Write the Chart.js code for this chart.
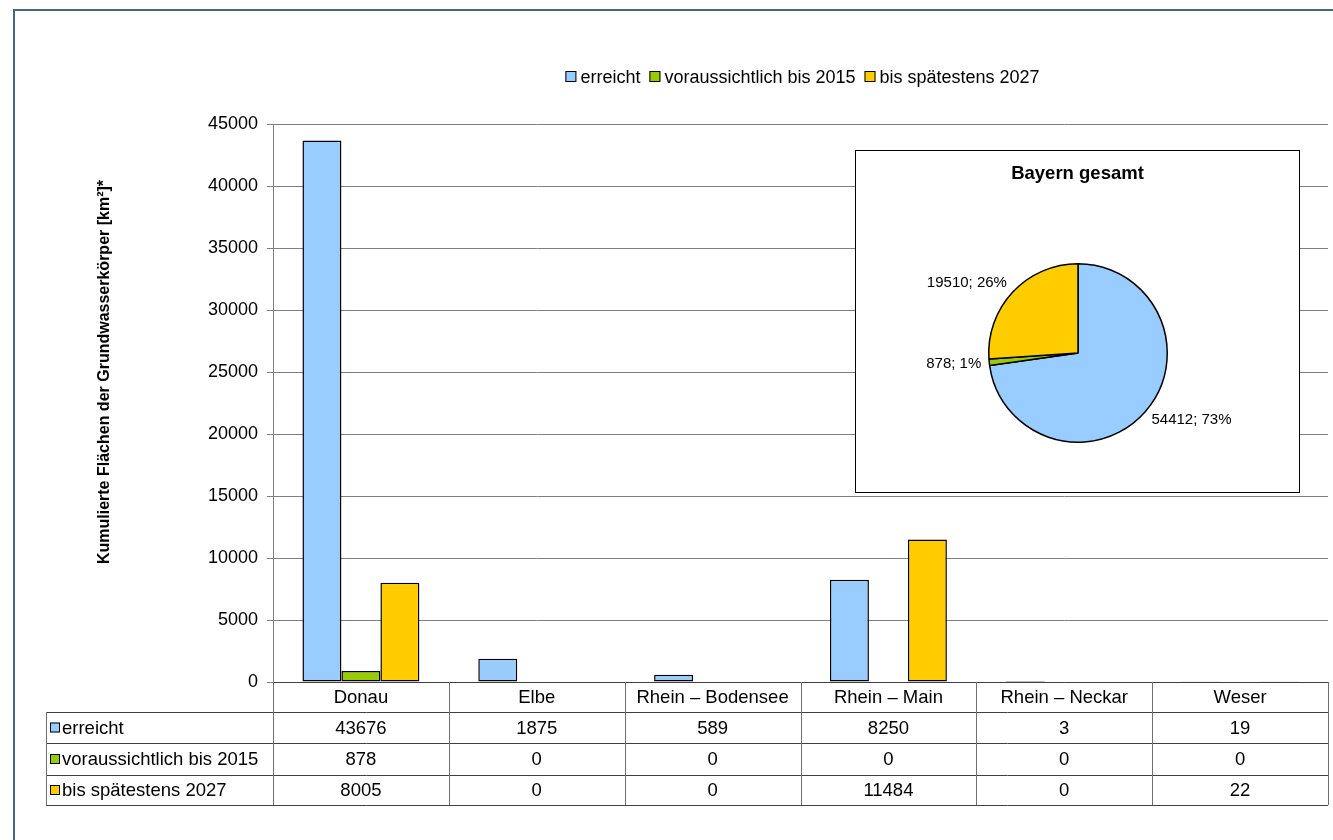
<!DOCTYPE html>
<html>
<head>
<meta charset="utf-8">
<script src="https://cdn.jsdelivr.net/npm/chart.js@4.4.1/dist/chart.umd.min.js"></script>
<style>
  html, body { margin: 0; padding: 0; background: #fff; }
  #wrap { position: relative; width: 1333px; height: 840px; overflow: hidden; }
  #frame { position: absolute; left: 13px; top: 9px; width: 1400px; height: 900px; border: 2px solid #3f6b80; }
  #main { position: absolute; left: 0; top: 0; }
  #pieBox { position: absolute; left: 855px; top: 150px; width: 445px; height: 343px;
            border: 1px solid #000; background: #fff; box-sizing: border-box; }
  #pie { position: absolute; left: 0; top: 0; }
</style>
</head>
<body>
<div id="wrap">
  <div id="frame"></div>
  <canvas id="main" width="1333" height="840"></canvas>
  <div id="pieBox"><canvas id="pie" width="443" height="341"></canvas></div>
</div>
<script>
// categories and series
var categories = ['Donau', 'Elbe', 'Rhein \u2013 Bodensee', 'Rhein \u2013 Main', 'Rhein \u2013 Neckar', 'Weser'];
var seriesNames = ['erreicht', 'voraussichtlich bis 2015', 'bis sp\u00e4testens 2027'];
var erreicht = [43676, 1875, 589, 8250, 3, 19];
var bis2015 = [878, 0, 0, 0, 0, 0];
var bis2027 = [8005, 0, 0, 11484, 0, 22];
var colors = ['#99ccff', '#99cc00', '#ffcc00'];
var yTitle = 'Kumulierte Fl\u00e4chen der Grundwasserk\u00f6rper [km\u00b2]*';

// pie "Bayern gesamt"
var pieValues = [54412, 878, 19510];
var piePercent = [73, 1, 26];

var FONT = "'Liberation Sans', Arial, sans-serif";

// legend on top, axis title, data table below the plot
var legendTablePlugin = {
  id: 'legendTable',
  afterDraw: function(chart) {
    var ctx = chart.ctx;
    var area = chart.chartArea;
    ctx.save();

    // y axis title
    ctx.save();
    ctx.translate(105, 372);
    ctx.rotate(-Math.PI / 2);
    ctx.font = 'bold 16px ' + FONT;
    ctx.fillStyle = '#000';
    ctx.textAlign = 'center';
    ctx.textBaseline = 'middle';
    ctx.fillText(yTitle, 0, 0);
    ctx.restore();

    // legend
    ctx.font = '18px ' + FONT;
    ctx.textBaseline = 'middle';
    var total = 0;
    var widths = seriesNames.map(function(n) { return ctx.measureText(n).width; });
    widths.forEach(function(w) { total += 11 + 4 + w; });
    total += 9 * (seriesNames.length - 1);
    var lx = (area.left + area.right) / 2 - total / 2 + 2;
    var ly = 77;
    seriesNames.forEach(function(n, i) {
      ctx.fillStyle = colors[i];
      ctx.fillRect(lx, ly - 6, 11, 11);
      ctx.strokeStyle = '#000';
      ctx.lineWidth = 1;
      ctx.strokeRect(lx + 0.5, ly - 5.5, 10, 10);
      ctx.fillStyle = '#000';
      ctx.textAlign = 'left';
      ctx.fillText(n, lx + 15, ly + 1);
      lx += 15 + widths[i] + 9;
    });

    // table
    var rows = [erreicht, bis2015, bis2027];
    var colW = (area.right - area.left) / categories.length;
    var top = area.bottom;
    var lines = [top, top + 30, top + 61, top + 93, top + 123];
    var tableLeft = 46;

    ctx.lineWidth = 1;
    ctx.strokeStyle = '#404040';
    ctx.beginPath();
    ctx.moveTo(area.left, lines[0] + 0.5); ctx.lineTo(area.right, lines[0] + 0.5);
    for (var r = 1; r < lines.length; r++) {
      ctx.moveTo(tableLeft, lines[r] + 0.5); ctx.lineTo(area.right, lines[r] + 0.5);
    }
    ctx.stroke();
    ctx.strokeStyle = '#707070';
    ctx.beginPath();
    ctx.moveTo(tableLeft + 0.5, lines[1]); ctx.lineTo(tableLeft + 0.5, lines[4]);
    for (var c = 0; c <= categories.length; c++) {
      var x = Math.round(area.left + c * colW) + 0.5;
      ctx.moveTo(x, lines[0]); ctx.lineTo(x, lines[4]);
    }
    ctx.stroke();

    ctx.fillStyle = '#000';
    ctx.font = '18.5px ' + FONT;
    ctx.textAlign = 'center';
    categories.forEach(function(cat, i) {
      var cx = chart.scales.x.getPixelForValue(i);
      ctx.fillText(cat, cx, (lines[0] + lines[1]) / 2 + 1);
      rows.forEach(function(vals, r) {
        ctx.fillText(String(vals[i]), cx, (lines[r + 1] + lines[r + 2]) / 2 + 1);
      });
    });
    ctx.textAlign = 'left';
    seriesNames.forEach(function(n, r) {
      var cy = (lines[r + 1] + lines[r + 2]) / 2;
      ctx.fillStyle = colors[r];
      ctx.fillRect(50, cy - 5, 10, 10);
      ctx.strokeStyle = '#000';
      ctx.strokeRect(50.5, cy - 4.5, 9, 9);
      ctx.fillStyle = '#000';
      ctx.fillText(n, 62, cy + 1);
    });
    ctx.restore();
  }
};

new Chart(document.getElementById('main'), {
  type: 'bar',
  data: {
    labels: categories,
    datasets: [erreicht, bis2015, bis2027].map(function(d, i) {
      return {
        label: seriesNames[i],
        data: d,
        backgroundColor: colors[i],
        borderColor: '#000',
        borderWidth: 1.5,
        borderSkipped: false,
        categoryPercentage: 0.665,
        barPercentage: 1
      };
    })
  },
  options: {
    responsive: false,
    animation: false,
    layout: { padding: { left: 90, right: 5, top: 124, bottom: 158 } },
    plugins: { legend: { display: false }, tooltip: { enabled: false } },
    scales: {
      x: { display: false },
      y: {
        min: 0, max: 45000,
        afterFit: function(s) { s.width = 183; },
        ticks: {
          stepSize: 5000, color: '#000', padding: 9,
          font: { family: FONT, size: 18 },
          callback: function(v) { return String(v); }
        },
        grid: { color: '#808080', lineWidth: 1, tickLength: 6 },
        border: { color: '#808080', width: 1 }
      }
    }
  },
  plugins: [legendTablePlugin]
});

// pie inset
var pieLabelPlugin = {
  id: 'pieLabels',
  afterDraw: function(chart) {
    var ctx = chart.ctx;
    ctx.save();
    ctx.fillStyle = '#000';
    ctx.font = 'bold 18.5px ' + FONT;
    ctx.textAlign = 'center';
    ctx.textBaseline = 'middle';
    ctx.fillText('Bayern gesamt', chart.width / 2, 23);
    ctx.font = '15px ' + FONT;
    chart.getDatasetMeta(0).data.forEach(function(arc, i) {
      var p = arc.getProps(['x', 'y', 'startAngle', 'endAngle', 'outerRadius']);
      var a = (p.startAngle + p.endAngle) / 2;
      var cos = Math.cos(a), sin = Math.sin(a);
      var r = p.outerRadius + 8;
      ctx.textAlign = cos >= 0 ? 'left' : 'right';
      ctx.fillText(pieValues[i] + '; ' + piePercent[i] + '%', p.x + cos * r, p.y + sin * r + sin * 5);
    });
    ctx.restore();
  }
};

new Chart(document.getElementById('pie'), {
  type: 'pie',
  data: {
    labels: seriesNames,
    datasets: [{
      data: pieValues,
      backgroundColor: colors,
      borderColor: '#000',
      borderWidth: 1.5
    }]
  },
  options: {
    responsive: false,
    animation: false,
    layout: { padding: { left: 132, right: 131, top: 112, bottom: 49 } },
    plugins: { legend: { display: false }, tooltip: { enabled: false } }
  },
  plugins: [pieLabelPlugin]
});
</script>
</body>
</html>
